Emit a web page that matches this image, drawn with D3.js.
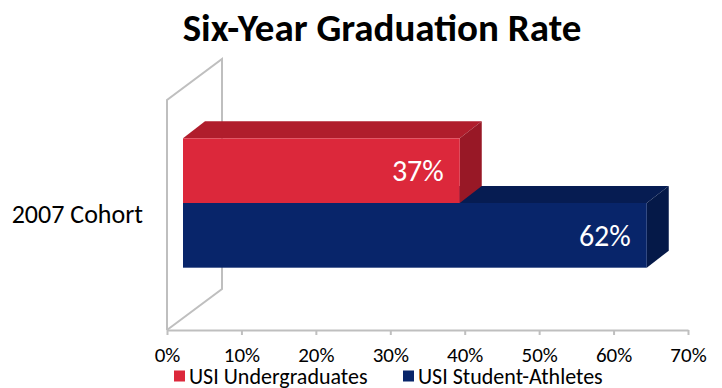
<!DOCTYPE html>
<html>
<head>
<meta charset="utf-8">
<script src="https://cdn.jsdelivr.net/npm/d3@7"></script>
<style>
  html, body { margin: 0; padding: 0; background: #ffffff; }
  svg { display: block; }
  text { font-family: Carlito, Calibri, Lato, "Open Sans", sans-serif; }
</style>
</head>
<body>
<svg id="chart" width="722" height="388"></svg>
<script>
// ---- data ----
const title = "Six-Year Graduation Rate";
const categories = ["2007 Cohort"];
const seriesNames = ["USI Undergraduates", "USI Student-Athletes"];
const undergraduates = [37];
const studentAthletes = [62];
const tickValues = [0, 10, 20, 30, 40, 50, 60, 70];
const tickLabels = ["0%", "10%", "20%", "30%", "40%", "50%", "60%", "70%"];

// ---- styles ----
const colors = {
  "USI Undergraduates":   { front: "#dc283b", top: "#b01d2c", side: "#981826" },
  "USI Student-Athletes": { front: "#08256a", top: "#061c52", side: "#051948" }
};
const gridColor = "#bfbfbf";

const svg = d3.select("#chart");

// ---- scales ----
const xAxis = d3.scaleLinear().domain([0, 70]).range([167, 688]);   // floor / axis plane
const xBar  = d3.scaleLinear().domain([0, 70]).range([183, 706.6]); // bar front plane
const wallTop = 100, wallBottom = 330;   // front edge of wall / floor
const wallDx = 55, wallDy = 41;          // wall depth offset
const barPlaneDy = 12;                   // bar front plane vertical shift
const yBand = d3.scaleBand().domain(categories)
  .range([wallTop - barPlaneDy, wallBottom - barPlaneDy]).padding(0.28);
const ySeries = d3.scaleBand().domain(seriesNames).range([0, yBand.bandwidth()]);
const depthDx = 22, depthDy = 17;        // bar depth offset

// ---- title ----
svg.append("text")
  .attr("x", 382).attr("y", 41)
  .attr("text-anchor", "middle")
  .attr("font-size", 39).attr("font-weight", "bold")
  .attr("fill", "#000")
  .text(title);

// ---- wall and floor outline ----
const x0 = xAxis(0);
const wall = svg.append("g").attr("fill", "none").attr("stroke", gridColor).attr("stroke-width", 2);
wall.append("path").attr("d",
  `M${x0},${wallBottom} L${x0},${wallTop} L${x0 + wallDx},${wallTop - wallDy} L${x0 + wallDx},${wallBottom - wallDy} L${x0},${wallBottom}`);

// axis
const axis = d3.axisBottom(xAxis).tickValues(tickValues)
  .tickFormat((d, i) => tickLabels[i]).tickSize(5).tickSizeOuter(0).tickPadding(12);
const axisG = svg.append("g").attr("transform", `translate(0,${wallBottom})`).call(axis);
axisG.select(".domain").attr("stroke", gridColor).attr("stroke-width", 2);
axisG.selectAll(".tick line").attr("stroke", gridColor).attr("stroke-width", 2);
axisG.selectAll(".tick text").attr("font-size", 21).attr("fill", "#000")
  .style("font-family", "Carlito, Calibri, Lato, 'Open Sans', sans-serif");

// ---- bars ----
const seriesData = {
  "USI Undergraduates": undergraduates,
  "USI Student-Athletes": studentAthletes
};
const drawOrder = ["USI Student-Athletes", "USI Undergraduates"];
const barsG = svg.append("g");
categories.forEach((cat, ci) => {
  drawOrder.forEach(s => {
    const v = seriesData[s][ci];
    const c = colors[s];
    const xl = xBar(0), xr = xBar(v);
    const yt = yBand(cat) + ySeries(s), yb = yt + ySeries.bandwidth();
    const g = barsG.append("g");
    g.append("polygon")
      .attr("points", [[xl, yt], [xr, yt], [xr + depthDx, yt - depthDy], [xl + depthDx, yt - depthDy]].join(" "))
      .attr("fill", c.top);
    g.append("polygon")
      .attr("points", [[xr, yt], [xr + depthDx, yt - depthDy], [xr + depthDx, yb - depthDy], [xr, yb]].join(" "))
      .attr("fill", c.side);
    g.append("rect")
      .attr("x", xl).attr("y", yt).attr("width", xr - xl).attr("height", yb - yt)
      .attr("fill", c.front);
    g.append("text")
      .attr("x", xr - 16).attr("y", (yt + yb) / 2)
      .attr("dy", "0.35em")
      .attr("text-anchor", "end")
      .attr("font-size", 30).attr("fill", "#ffffff")
      .text(v + "%");
  });
});

// ---- category label ----
categories.forEach(cat => {
  svg.append("text")
    .attr("x", 143).attr("y", yBand(cat) + yBand.bandwidth() / 2 + barPlaneDy + 8)
    .attr("text-anchor", "end")
    .attr("font-size", 26).attr("fill", "#000")
    .text(cat);
});

// ---- legend ----
const legendX = [174, 403];
const legend = svg.append("g");
seriesNames.forEach((s, i) => {
  legend.append("rect").attr("x", legendX[i]).attr("y", 370.5).attr("width", 11).attr("height", 11)
    .attr("fill", colors[s].front);
  legend.append("text").attr("x", legendX[i] + 15).attr("y", 384)
    .attr("font-size", 22).attr("fill", "#000").text(s);
});
</script>
</body>
</html>
